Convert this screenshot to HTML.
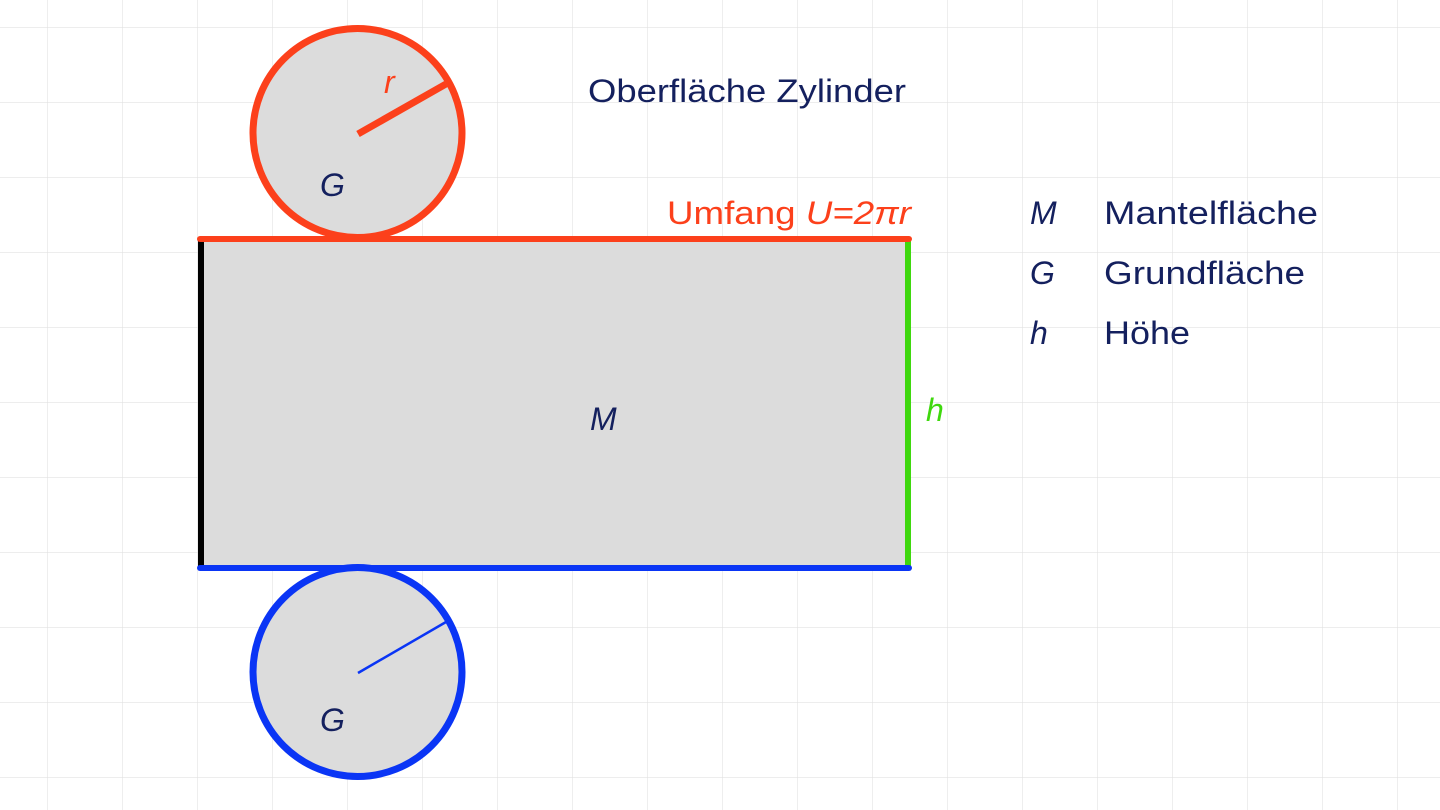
<!DOCTYPE html>
<html><head><meta charset="utf-8"><style>
html,body{margin:0;padding:0;background:#fff}
svg{display:block}
text{font-family:"Liberation Sans","DejaVu Sans",sans-serif}
</style></head><body>
<svg width="1440" height="810" viewBox="0 0 1440 810">
<defs>
<pattern id="g" x="47" y="27" width="75" height="75" patternUnits="userSpaceOnUse">
<path d="M0 0V75M0 0H75" stroke="#e2e2e2" stroke-width="1.2" fill="none"/>
</pattern>
</defs>
<rect width="1440" height="810" fill="#fff"/>
<rect width="1440" height="810" fill="url(#g)"/>
<rect x="200" y="239" width="708" height="329" fill="#dcdcdc"/>
<line x1="201" y1="240" x2="201" y2="567" stroke="#000" stroke-width="6"/>
<line x1="908" y1="240" x2="908" y2="567" stroke="#3fd80e" stroke-width="6"/>
<circle cx="357.5" cy="133" r="104.5" fill="#dcdcdc" stroke="#fc401b" stroke-width="7"/>
<line x1="358" y1="134" x2="446" y2="84" stroke="#fc401b" stroke-width="7"/>
<line x1="200" y1="239" x2="909" y2="239" stroke="#fc401b" stroke-width="6" stroke-linecap="round"/>
<circle cx="357.5" cy="672" r="104.5" fill="#dcdcdc" stroke="#0a35f5" stroke-width="7"/>
<line x1="358" y1="673" x2="446" y2="622" stroke="#0a35f5" stroke-width="2.5"/>
<line x1="200" y1="568" x2="909" y2="568" stroke="#0a35f5" stroke-width="6" stroke-linecap="round"/>
<g fill="#14205e" font-size="32">
<text x="588" y="102" textLength="318" lengthAdjust="spacingAndGlyphs">Oberfläche Zylinder</text>
<text x="320" y="196" font-style="italic">G</text>
<text x="320" y="731" font-style="italic">G</text>
<text x="590" y="430" font-style="italic">M</text>
<text x="1030" y="224" font-style="italic">M</text>
<text x="1104" y="224" textLength="214" lengthAdjust="spacingAndGlyphs">Mantelfläche</text>
<text x="1030" y="284" font-style="italic">G</text>
<text x="1104" y="284" textLength="201" lengthAdjust="spacingAndGlyphs">Grundfläche</text>
<text x="1030" y="344" font-style="italic">h</text>
<text x="1104" y="344" textLength="86" lengthAdjust="spacingAndGlyphs">Höhe</text>
</g>
<text x="384" y="93" fill="#fc401b" font-size="32" font-style="italic">r</text>
<text x="667" y="224" fill="#fc401b" font-size="32" textLength="244" lengthAdjust="spacingAndGlyphs">Umfang <tspan font-style="italic">U=2πr</tspan></text>
<text x="926" y="421" fill="#3fd80e" font-size="32" font-style="italic">h</text>
</svg>
</body></html>
